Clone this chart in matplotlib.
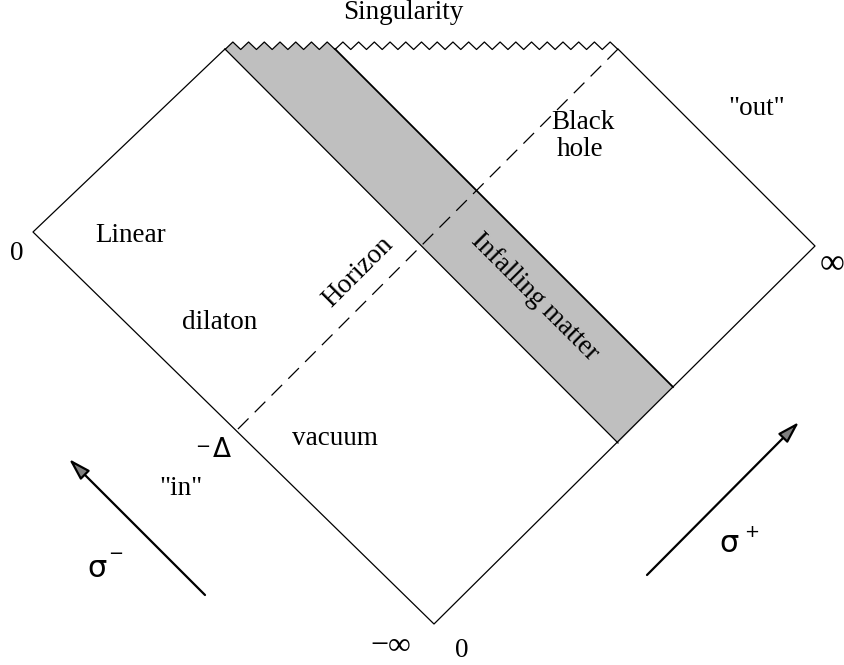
#Penrose diagram of a black hole formed by infalling matter (linear dilaton vacuum)
import numpy as np
import matplotlib
matplotlib.use("Agg")
import matplotlib.pyplot as plt
from matplotlib.patches import Polygon

#corners of the diagram, in picture pixels
left = (33, 232)
top_left = (225, 49)
top_right = (618, 49)
right = (815, 246)
bottom = (434, 624)
minus_delta = (237, 430)

#shaded band of infalling matter
band_x = [225, 335, 673, 618]
band_y = [49, 49, 387, 443]

#singularity zigzag
n_teeth = 25
n_teeth_band = 7
zig_low, zig_high = 49.5, 42

#arrows (tail, tip)
arrow_minus = [(205, 595), (69, 459)]
arrow_plus = [(647, 575), (799, 422)]

serif = "Liberation Serif"
fs = 19.5

fig = plt.figure(figsize=(8.45, 6.65), dpi=100)
ax = fig.add_axes([0, 0, 1, 1])
ax.set_xlim(0, 845)
ax.set_ylim(665, 0)
ax.axis("off")

zx = np.linspace(top_left[0], top_right[0], 2 * n_teeth + 1)
zy = np.array([zig_low if i % 2 == 0 else zig_high for i in range(len(zx))])

#gray band, its top follows the zigzag
nb = 2 * n_teeth_band + 1
poly = list(zip(zx[:nb], zy[:nb])) + [(band_x[2], band_y[2]), (band_x[3], band_y[3])]
ax.add_patch(Polygon(poly, closed=True, fc="#bfbfbf", ec="none"))

ax.plot(zx, zy, color="black", lw=0.9)

#boundary
bx = [top_right[0], right[0], bottom[0], left[0], top_left[0]]
by = [top_right[1], right[1], bottom[1], left[1], top_left[1]]
ax.plot(bx, by, color="black", lw=0.9)

#band edges
ax.plot([band_x[0], band_x[3]], [band_y[0], band_y[3]], color="black", lw=0.9)
ax.plot([band_x[1], band_x[2]], [band_y[1], band_y[2]], color="black", lw=1.3)

#horizon
ax.plot([top_right[0], minus_delta[0]], [top_right[1], minus_delta[1]],
        color="black", lw=0.9, dashes=(12, 7))

for tail, tip in [arrow_minus, arrow_plus]:
    ax.annotate("", xy=tip, xytext=tail,
                arrowprops=dict(arrowstyle="-|>,head_length=0.6,head_width=0.18",
                                mutation_scale=22, fc="#7f7f7f", ec="black",
                                lw=1.6, shrinkA=0, shrinkB=0))

#labels
def lab(x, y, s, **kw):
    kw.setdefault("family", serif)
    kw.setdefault("fontsize", fs)
    kw.setdefault("ha", "center")
    kw.setdefault("va", "baseline")
    ax.text(x, y, s, **kw)

lab(403, 19, "Singularity")
lab(17, 260, "0")
lab(131, 242, "Linear")
lab(220, 329, "dilaton")
lab(335, 445, "vacuum")
lab(583, 129, "Black")
lab(580, 156, "hole")
lab(757, 115, '"out"')
lab(181, 495, '"in"')
lab(358, 272, "Horizon", rotation=45, va="center", rotation_mode="anchor")
lab(535, 297, "Infalling matter", rotation=-45, va="center", rotation_mode="anchor")
lab(832, 273, "\u221e", fontsize=25)
lab(462, 657, "0")
lab(391, 654, "\u2212\u221e", fontsize=23)

#minus delta and sigma labels
lab(203, 452, "\u2212", family="DejaVu Sans", fontsize=13)
lab(222, 457, "\u0394", family="DejaVu Sans", fontsize=19)
lab(97, 577, "\u03c3", family="DejaVu Sans", fontsize=22)
lab(116, 559, "\u2212", family="DejaVu Sans", fontsize=13)
lab(729, 552, "\u03c3", family="DejaVu Sans", fontsize=22)
lab(752, 537, "+", family="DejaVu Sans", fontsize=13)

fig.savefig("out.png", dpi=100)
